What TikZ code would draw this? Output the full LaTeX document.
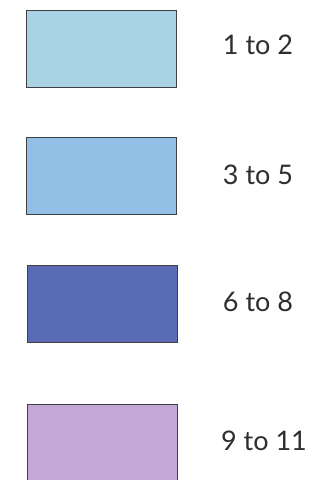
\documentclass[tikz,border=0pt]{standalone}
\usepackage{fontspec}
\setmainfont{Lato}
\definecolor{cA}{HTML}{A9D3E5}
\definecolor{cB}{HTML}{92BFE6}
\definecolor{cC}{HTML}{5A6BB5}
\definecolor{cD}{HTML}{C5A6D8}
\definecolor{txt}{HTML}{2E2E2E}
\begin{document}
\begin{tikzpicture}[x=1pt,y=-1pt,
  swatch/.style={draw=black!75,line width=1pt,minimum width=150pt,minimum height=77pt,inner sep=0pt},
  lbl/.style={text=txt,font=\fontsize{27}{32}\selectfont,inner sep=0pt}]
\useasboundingbox (0,0) rectangle (330,480);
\node[swatch,fill=cA] (s1) at (101,48.5) {};
\node[swatch,fill=cB] (s2) at (101,175.5) {};
\node[swatch,fill=cC] (s3) at (102,303.5) {};
\node[swatch,fill=cD] (s4) at (102,443) {};
\node[lbl] (l1) at (258,45) {1 to 2};
\node[lbl] (l2) at (258,175) {3 to 5};
\node[lbl] (l3) at (258,302) {6 to 8};
\node[lbl] (l4) at (264,441) {9 to 11};
\end{tikzpicture}
\end{document}
